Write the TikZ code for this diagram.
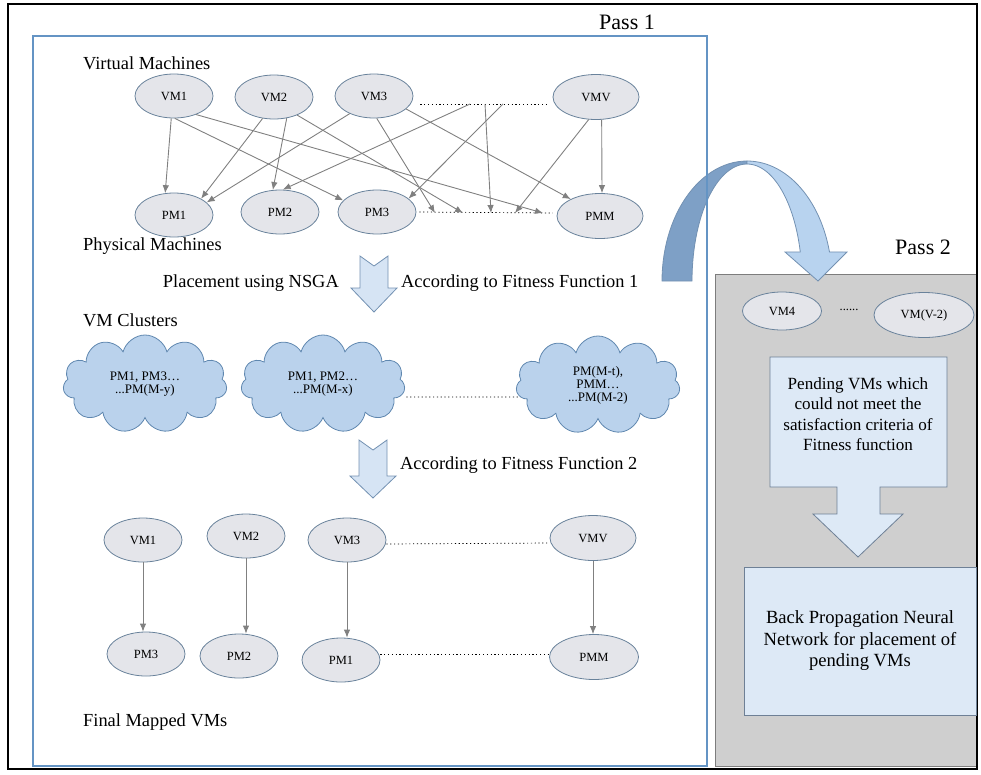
\documentclass[tikz,border=0pt]{standalone}
\usepackage{fontspec}
\setmainfont{Liberation Serif}
\usetikzlibrary{shapes.geometric,shapes.symbols,arrows.meta}

\definecolor{ellfill}{RGB}{228,229,234}
\definecolor{ellline}{RGB}{105,130,155}
\definecolor{linkgray}{RGB}{128,128,128}
\definecolor{passblue}{RGB}{100,148,196}
\definecolor{cloudfill}{RGB}{186,210,236}
\definecolor{cloudline}{RGB}{95,135,175}
\definecolor{arrowfill}{RGB}{214,228,244}
\definecolor{arrowline}{RGB}{115,145,178}
\definecolor{panelgray}{RGB}{207,207,207}
\definecolor{panelline}{RGB}{125,125,125}
\definecolor{boxfill}{RGB}{221,233,246}
\definecolor{boxline}{RGB}{110,128,150}
\definecolor{bendlight}{RGB}{184,211,239}
\definecolor{benddark}{RGB}{126,160,198}

\tikzset{
vmnode/.style={
ellipse,
draw=ellline,
fill=ellfill,
line width=0.8pt,
minimum width=78pt,
minimum height=44pt,
inner sep=0pt,
font=\fontsize{12.5}{14}\selectfont
},
wide/.style={minimum width=86pt, minimum height=45pt},
link/.style={draw=linkgray, line width=0.9pt, -{Latex[length=8pt,width=6.5pt]}},
dotline/.style={line width=0.7pt, dash pattern=on 1.2pt off 2.6pt},
caption/.style={anchor=west, inner sep=0pt, font=\fontsize{18.4}{22}\selectfont},
clusternode/.style={
cloud,
cloud puffs=11,
cloud ignores aspect,
draw=cloudline,
fill=cloudfill,
line width=0.8pt,
minimum width=164pt,
minimum height=98pt,
inner sep=0pt,
align=center,
font=\fontsize{13}{13}\selectfont
},
blockarrow/.style={draw=arrowline, fill=arrowfill, line width=0.8pt}
}

\begin{document}
\begin{tikzpicture}[x=1pt,y=-1pt]
\useasboundingbox (0,0) rectangle (981,774);

% second pass panel
\draw[fill=panelgray, draw=panelline, line width=0.8pt] (715,274) rectangle (977,766);

% bent arrow from pass 1 into pass 2
\draw[fill=benddark, draw=arrowline, line width=0.8pt]
plot[domain=180:270, samples=30, variable=\t] ({747+85*cos(\t)},{281+120*sin(\t)})
-- plot[domain=270:180, samples=30, variable=\t] ({747+55*cos(\t)},{281+117*sin(\t)})
-- cycle;
\draw[fill=bendlight, draw=arrowline, line width=0.8pt]
plot[domain=270:346, samples=30, variable=\t] ({747+85*cos(\t)},{281+120*sin(\t)})
-- (847,252) -- (818,281) -- (785,252)
-- plot[domain=345.6:270, samples=30, variable=\t] ({747+55*cos(\t)},{281+117*sin(\t)})
-- cycle;

% frames
\draw[passblue, line width=1.8pt] (33,36) rectangle (707,766);
\draw[line width=1.5pt] (8,4) rectangle (977,769);

\node[font=\fontsize{22}{24}\selectfont] (pass1) at (627,22) {Pass 1};
\node[font=\fontsize{22}{24}\selectfont] (pass2) at (923,247) {Pass 2};

% virtual and physical machines
\node[caption] (vmtitle) at (83,63) {Virtual Machines};
\node[vmnode] (vm1) at (174,96) {VM1};
\node[vmnode] (vm2) at (274,97) {VM2};
\node[vmnode] (vm3) at (374,96) {VM3};
\node[vmnode, wide] (vmv) at (596,97) {VMV};

\node[vmnode] (pm1) at (174,215) {PM1};
\node[vmnode] (pm2) at (280,212) {PM2};
\node[vmnode] (pm3) at (377,212) {PM3};
\node[vmnode, wide] (pmm) at (600,216) {PMM};
\node[caption] (pmtitle) at (83,246) {Physical Machines};

\coordinate (s1) at (470,104);
\coordinate (s2) at (485,104);
\coordinate (s3) at (503,104);
\coordinate (t1) at (435,213);
\coordinate (t2) at (463,213);
\coordinate (t3) at (491,213);
\coordinate (t4) at (515,213);
\coordinate (t5) at (543,213);

\draw[dotline] ([shift={(7pt,-8pt)}]vm3.east) -- ([shift={(-5pt,-7pt)}]vmv.west);
\draw[dotline] ([xshift=3pt]pm3.east) -- ([shift={(-4pt,3pt)}]pmm.west);

\draw[link] (vm1.-97) -- (pm1.112);
\draw[link] (vm1.-88) -- (pm3.161);
\draw[link] (vm1.-40) -- (t5);
\draw[link] (vm2.-118) -- (pm1.31);
\draw[link] (vm2.-59) -- (pm2.108);
\draw[link] (vm2.-38) -- (t2);
\draw[link] (vm3.-144) -- (pm1.21);
\draw[link] (vm3.-83) -- (t1);
\draw[link] (vm3.-22) -- (pmm.150);
\draw[link] (s1) -- (pm2.83);
\draw[link] (s2) -- (t3);
\draw[link] (s3) -- (pm3.23);
\draw[link] (vmv.-108) -- (t4);
\draw[link] (vmv.-76) -- (pmm.85);

% first placement step
\draw[blockarrow] (360,256) -- (374,266) -- (388,256) -- (388,288) -- (397,288)
-- (374,312) -- (351,288) -- (360,288) -- cycle;
\node[caption, anchor=east] (nsga) at (339,283) {Placement using NSGA};
\node[caption] (fit1) at (401,283) {According to Fitness Function 1};

% clusters
\node[caption] (cltitle) at (83,320) {VM Clusters};
\node[clusternode] (cl1) at (145,384) {PM1, PM3…\\...PM(M-y)};
\node[clusternode] (cl2) at (323,384) {PM1, PM2…\\...PM(M-x)};
\node[clusternode] (cl3) at (598,385) {PM(M-t),\\PMM…\\...PM(M-2)};
\draw[dotline] ([shift={(2pt,-13pt)}]cl2.east) -- ([shift={(3pt,-12pt)}]cl3.west);

% second placement step
\draw[blockarrow] (359,440) -- (373,450) -- (387,440) -- (387,476) -- (396,476)
-- (373,498) -- (350,476) -- (359,476) -- cycle;
\node[caption] (fit2) at (400,465) {According to Fitness Function 2};

% final mapping
\node[vmnode] (fvm1) at (143,540) {VM1};
\node[vmnode] (fvm2) at (246,536) {VM2};
\node[vmnode] (fvm3) at (347,540) {VM3};
\node[vmnode, wide] (fvmv) at (593,538) {VMV};
\node[vmnode] (fpm3) at (146,654) {PM3};
\node[vmnode] (fpm2) at (239,656) {PM2};
\node[vmnode] (fpm1) at (341,660) {PM1};
\node[vmnode, wide, minimum width=89pt] (fpmm) at (594,657) {PMM};

\draw[link] (fvm1.south) -- (fvm1.south |- fpm3.north);
\draw[link] (fvm2.south) -- (fvm2.south |- fpm2.north);
\draw[link] (fvm3.south) -- (fvm3.south |- fpm1.north);
\draw[link] (fvmv.south) -- (fvmv.south |- fpmm.north);
\draw[dotline] ([yshift=-4pt]fvm3.east) -- ([yshift=-5pt]fvmv.west);
\draw[dotline] ([yshift=6pt]fpm1.east) -- ([yshift=3pt]fpmm.west);
\node[caption] (fintitle) at (83,722) {Final Mapped VMs};

% pending vms
\node[vmnode, minimum width=79pt, minimum height=38pt] (vm4) at (782,311) {VM4};
\node[font=\fontsize{12.5}{14}\selectfont, inner sep=0pt] (gap) at (849,310) {......};
\node[vmnode, minimum width=100pt, minimum height=45pt] (vmv2) at (924,315) {VM(V-2)};

\draw[draw=boxline, fill=boxfill, line width=0.8pt] (770,357) -- (947,357) -- (947,487)
-- (880,487) -- (880,514) -- (903,514) -- (858,557) -- (813,514) -- (837,514)
-- (837,487) -- (770,487) -- cycle;
\node[align=center, font=\fontsize{17.1}{20.5}\selectfont] (pending) at (858,414)
{Pending VMs which\\could not meet the\\satisfaction criteria of\\Fitness function};

\node[draw=boxline, fill=boxfill, line width=0.8pt, minimum width=232pt, minimum height=148pt,
align=center, font=\fontsize{18.6}{21.5}\selectfont] (bpnn) at (860,641)
{Back Propagation Neural\\Network for placement of\\pending VMs};

\end{tikzpicture}
\end{document}
